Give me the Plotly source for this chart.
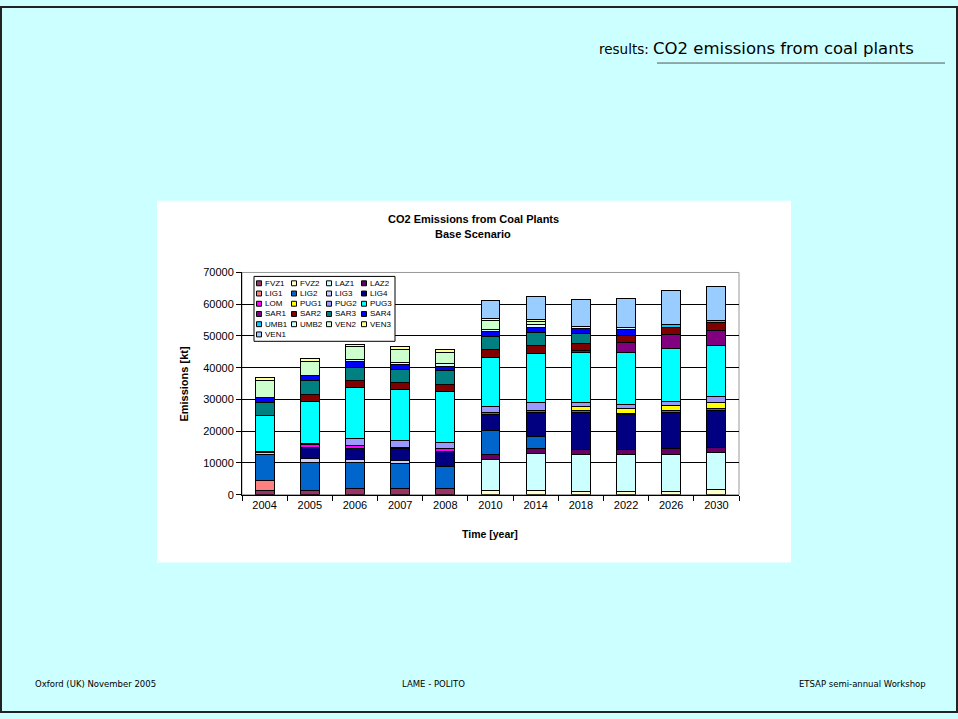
import plotly.graph_objects as go

W, H = 958, 719

# ---- data (kt of CO2 per plant, stacked bottom -> top in this order) ----
years = ["2004", "2005", "2006", "2007", "2008", "2010", "2014", "2018", "2022", "2026", "2030"]

FVZ1 = [1300, 1300, 1900, 1900, 1900, 0, 0, 0, 0, 0, 0]
FVZ2 = [0, 0, 0, 0, 0, 1400, 1200, 1000, 1000, 1000, 1500]
LAZ1 = [0, 0, 0, 0, 0, 9800, 11700, 11600, 11600, 11800, 11700]
LAZ2 = [0, 0, 0, 0, 0, 1600, 1800, 1500, 1600, 1800, 1600]
LIG1 = [3100, 0, 0, 0, 0, 0, 0, 0, 0, 0, 0]
LIG2 = [8200, 8700, 8400, 7900, 7100, 7400, 3700, 0, 0, 0, 0]
LIG3 = [600, 1400, 900, 900, 0, 0, 0, 0, 0, 0, 0]
LIG4 = [0, 3500, 3500, 3700, 4700, 5200, 7500, 11700, 11000, 11400, 11700]
LOM = [0, 800, 800, 500, 900, 600, 700, 600, 500, 500, 600]
PUG1 = [0, 0, 0, 0, 0, 0, 0, 1500, 1600, 1600, 1800]
PUG2 = [500, 300, 2200, 2300, 1900, 1800, 2300, 1200, 1100, 1300, 2000]
PUG3 = [11200, 13400, 16100, 15800, 16000, 15500, 15500, 15600, 16300, 16500, 16100]
SAR1 = [0, 0, 0, 0, 0, 0, 0, 600, 3300, 4500, 4700]
SAR2 = [0, 2200, 2300, 2400, 2200, 2300, 2500, 2400, 2300, 2400, 2400]
SAR3 = [4100, 4400, 4100, 4000, 4300, 4300, 4200, 3200, 0, 0, 0]
SAR4 = [1600, 1700, 1700, 1500, 1500, 1600, 1700, 1500, 1700, 0, 0]
UMB1 = [0, 0, 0, 0, 0, 0, 0, 0, 0, 800, 800]
UMB2 = [0, 0, 800, 600, 700, 600, 700, 600, 600, 0, 0]
VEN2 = [5500, 4200, 3900, 4300, 3600, 2800, 1000, 0, 0, 0, 0]
VEN3 = [800, 900, 800, 1000, 900, 600, 600, 0, 0, 0, 0]
VEN1 = [0, 0, 0, 0, 0, 5800, 7200, 8600, 9300, 10600, 10800]

series_names = ["FVZ1", "FVZ2", "LAZ1", "LAZ2", "LIG1", "LIG2", "LIG3", "LIG4",
                "LOM", "PUG1", "PUG2", "PUG3", "SAR1", "SAR2", "SAR3", "SAR4",
                "UMB1", "UMB2", "VEN2", "VEN3", "VEN1"]
series_values = [FVZ1, FVZ2, LAZ1, LAZ2, LIG1, LIG2, LIG3, LIG4,
                 LOM, PUG1, PUG2, PUG3, SAR1, SAR2, SAR3, SAR4,
                 UMB1, UMB2, VEN2, VEN3, VEN1]
series_colors = ["#993366", "#FFFFCC", "#CCFFFF", "#660066", "#FF8080", "#0066CC",
                 "#CCCCFF", "#000080", "#FF00FF", "#FFFF00", "#9999FF", "#00FFFF",
                 "#800080", "#800000", "#008080", "#0000FF", "#00CCFF", "#CCFFFF",
                 "#CCFFCC", "#FFFF99", "#99CCFF"]

y_ticks = [0, 10000, 20000, 30000, 40000, 50000, 60000, 70000]


def px(x):
    return x / W


def py(y):
    return 1 - y / H


fig = go.Figure()
for name, vals, color in zip(series_names, series_values, series_colors):
    fig.add_trace(go.Bar(
        x=years,
        y=[v if v else None for v in vals],
        name=name,
        marker=dict(color=color, line=dict(color="black", width=1)),
        showlegend=False,
    ))

# plot area placement on the slide
plot_l, plot_r, plot_t, plot_b = 242, 739, 271, 497

shapes = [
    # slide frame
    dict(type="rect", xref="paper", yref="paper", x0=px(1), x1=px(957), y0=py(718), y1=py(1),
         line=dict(color="#222222", width=2), layer="below"),
    # white chart area
    dict(type="rect", xref="paper", yref="paper", x0=px(157), x1=px(791), y0=py(566), y1=py(198),
         fillcolor="white", line=dict(width=0), layer="below"),
    # plot area frame
    dict(type="rect", xref="paper", yref="paper", x0=px(plot_l), x1=px(plot_r), y0=py(plot_b), y1=py(plot_t),
         line=dict(color="#999999", width=1), layer="below"),
    # heading underline
    dict(type="line", xref="paper", yref="paper", x0=px(657), x1=px(945), y0=py(58), y1=py(58),
         line=dict(color="#555555", width=1)),
]

annotations = [
    dict(text="<b>CO2 Emissions from Coal Plants</b>", x=px(473), y=py(217)),
    dict(text="<b>Base Scenario</b>", x=px(473), y=py(232)),
    dict(text="<b>Time [year]</b>", x=px(490), y=py(537), font=dict(size=10.5)),
    dict(text="<b>Emissions [kt]</b>", x=px(184), y=py(384), textangle=-90, font=dict(size=11)),
]
for a in annotations:
    a.update(xref="paper", yref="paper", showarrow=False, xanchor="center", yanchor="middle")
    a.setdefault("font", dict(size=11))
    a["font"].update(family="Liberation Sans, Arial, sans-serif", color="black")

# heading and footer text of the slide
slide_font = "DejaVu Sans, Tahoma, Verdana, sans-serif"
annotations += [
    dict(text="<span style='font-size:13.5px'>results: </span>CO2 emissions from coal plants",
         x=px(916), y=py(43), xanchor="right", font=dict(size=16.5)),
    dict(text="Oxford (UK) November 2005", x=px(33), y=py(689), xanchor="left", font=dict(size=8.5)),
    dict(text="LAME - POLITO", x=px(433), y=py(689), xanchor="center", font=dict(size=8.5)),
    dict(text="ETSAP semi-annual Workshop", x=px(928), y=py(689), xanchor="right", font=dict(size=8.5)),
]
for a in annotations[4:]:
    a.update(xref="paper", yref="paper", showarrow=False, yanchor="middle")
    a["font"].update(family=slide_font, color="black")

# legend box built from the series list (4 columns)
leg_x0, leg_y0, leg_x1, leg_y1 = 254, 275, 395, 341
shapes.append(dict(type="rect", xref="paper", yref="paper", x0=px(leg_x0), x1=px(leg_x1),
                   y0=py(leg_y1), y1=py(leg_y0), fillcolor="white",
                   line=dict(color="black", width=1)))
col_x = [259, 294, 329, 364]
row_y0, row_dy = 282, 10.4
for i, (name, color) in enumerate(zip(series_names, series_colors)):
    cx = col_x[i % 4]
    cy = row_y0 + row_dy * (i // 4)
    shapes.append(dict(type="rect", xref="paper", yref="paper",
                       x0=px(cx - 2.5), x1=px(cx + 2.5), y0=py(cy + 2.5), y1=py(cy - 2.5),
                       fillcolor=color, line=dict(color="black", width=1)))
    annotations.append(dict(text=name, x=px(cx + 4), y=py(cy), xref="paper", yref="paper",
                            xanchor="left", yanchor="middle", showarrow=False,
                            font=dict(family="Liberation Sans, Arial, sans-serif", size=8, color="black")))

fig.update_layout(
    width=W, height=H,
    margin=dict(l=0, r=0, t=0, b=0),
    paper_bgcolor="#CCFFFF",
    plot_bgcolor="white",
    barmode="stack",
    bargap=0.58,
    showlegend=False,
    font=dict(family="Liberation Sans, Arial, sans-serif", size=11, color="black"),
    shapes=shapes,
    annotations=annotations,
    xaxis=dict(domain=[px(plot_l), px(plot_r)], type="category", tickson="boundaries",
               ticks="outside", ticklen=5, tickcolor="black", showline=True,
               linecolor="black", linewidth=1, showgrid=False,
               tickfont=dict(size=11, color="black")),
    yaxis=dict(domain=[py(plot_b), py(plot_t)], range=[0, 70000], tickvals=y_ticks,
               tickformat="d", ticks="outside", ticklen=5, tickcolor="black",
               showline=True, linecolor="black", linewidth=1,
               showgrid=True, gridcolor="black", gridwidth=1, zeroline=False,
               tickfont=dict(size=11, color="black")),
)

fig.write_html("out.html")
